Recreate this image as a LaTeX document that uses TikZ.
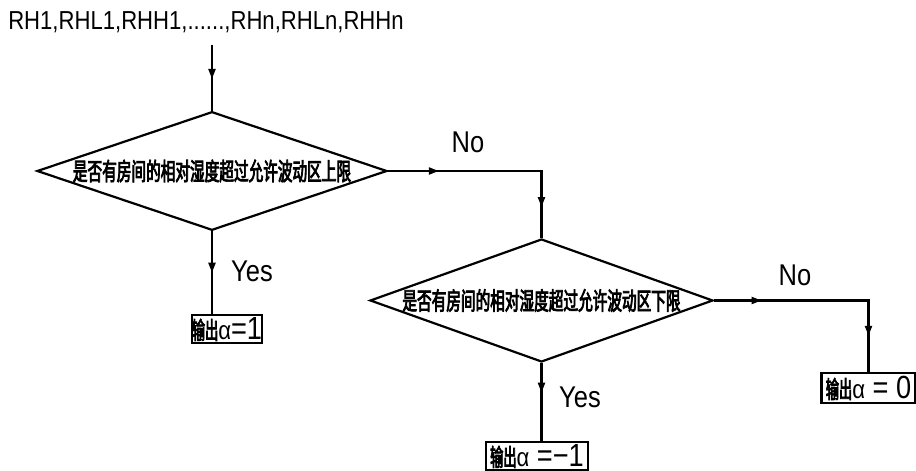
\documentclass[tikz,border=0pt]{standalone}
\usepackage{fontspec}
\setmainfont{Liberation Sans}
\newfontfamily\cad[FakeStretch=0.85]{Liberation Sans}
\newfontfamily\cjk[FakeStretch=0.6,FakeBold=3]{Noto Sans CJK SC}
\newfontfamily\cjkout[FakeStretch=0.55,FakeBold=3]{Noto Sans CJK SC}
\usetikzlibrary{arrows.meta,shapes.geometric,decorations.markings}

\begin{document}
\begin{tikzpicture}[
  x=0.5pt, y=0.5pt,
  line width=1.1pt,
  decision/.style={diamond, draw, inner sep=0pt,
                   font=\cjk\fontsize{12.2}{13}\selectfont},
  outbox/.style={draw, rectangle, inner sep=0pt, minimum height=14pt,
                 font=\cad\fontsize{16}{16}\selectfont},
  lab/.style={font=\cad\fontsize{15}{16}\selectfont, inner sep=0pt},
  flow/.style={postaction={decorate}, decoration={markings,
               mark=at position #1 with {\arrow{Triangle[length=5pt,width=3.5pt]}}}},
  elbow/.style 2 args={postaction={decorate}, decoration={markings,
               mark=at position #1 with {\arrow{Triangle[length=5pt,width=3.5pt]}},
               mark=at position #2 with {\arrow{Triangle[length=5pt,width=3.5pt]}}}}
]
\useasboundingbox (0,0) rectangle (916,471);

% input signals
\node[font=\cad\fontsize{13}{14}\selectfont, inner xsep=0pt, inner ysep=5.5pt] (inp) at (206,449)
  {RH1,RHL1,RHH1,......,RHn,RHLn,RHHn};

% the two checks
\node[decision, aspect=2.9, minimum width=175pt, minimum height=59pt] (upper) at (212,300)
  {是否有房间的相对湿度超过允许波动区上限};
\node[decision, aspect=2.8, minimum width=171.5pt, minimum height=61.5pt] (lower) at (541.5,170.5)
  {是否有房间的相对湿度超过允许波动区下限};

% outputs
\node[outbox, minimum width=34pt] (out1) at (227,142)
  {{\cjkout\fontsize{12}{12}\selectfont 输出}{\fontsize{13}{12}\selectfont α}=1};
\node[outbox, minimum width=51pt] (out2) at (537,15)
  {{\cjkout\fontsize{12}{12}\selectfont 输出}{\fontsize{13}{12}\selectfont α} =−1};
\node[outbox, minimum width=47pt, minimum height=15pt] (out3) at (868.5,83)
  {{\cjkout\fontsize{12}{12}\selectfont 输出}{\fontsize{13}{12}\selectfont α} = 0};

% branch labels
\node[lab] (no1) at (468,329) {No};
\node[lab] (yes1) at (252,200) {Yes};
\node[lab] (no2) at (795,196) {No};
\node[lab] (yes2) at (580,74) {Yes};

% connectors
\draw[flow=0.52] (upper.north |- inp.south) -- (upper.north);
\draw[flow=0.5] (upper.south) -- (upper.south |- out1.north);
\draw[elbow={0.23}{0.86}] (upper.east) -| (lower.north);
\draw[flow=0.38] (lower.south) -- (lower.south |- out2.north);
\draw[elbow={0.21}{0.84}] (lower.east) -| (out3.north);

\end{tikzpicture}
\end{document}
